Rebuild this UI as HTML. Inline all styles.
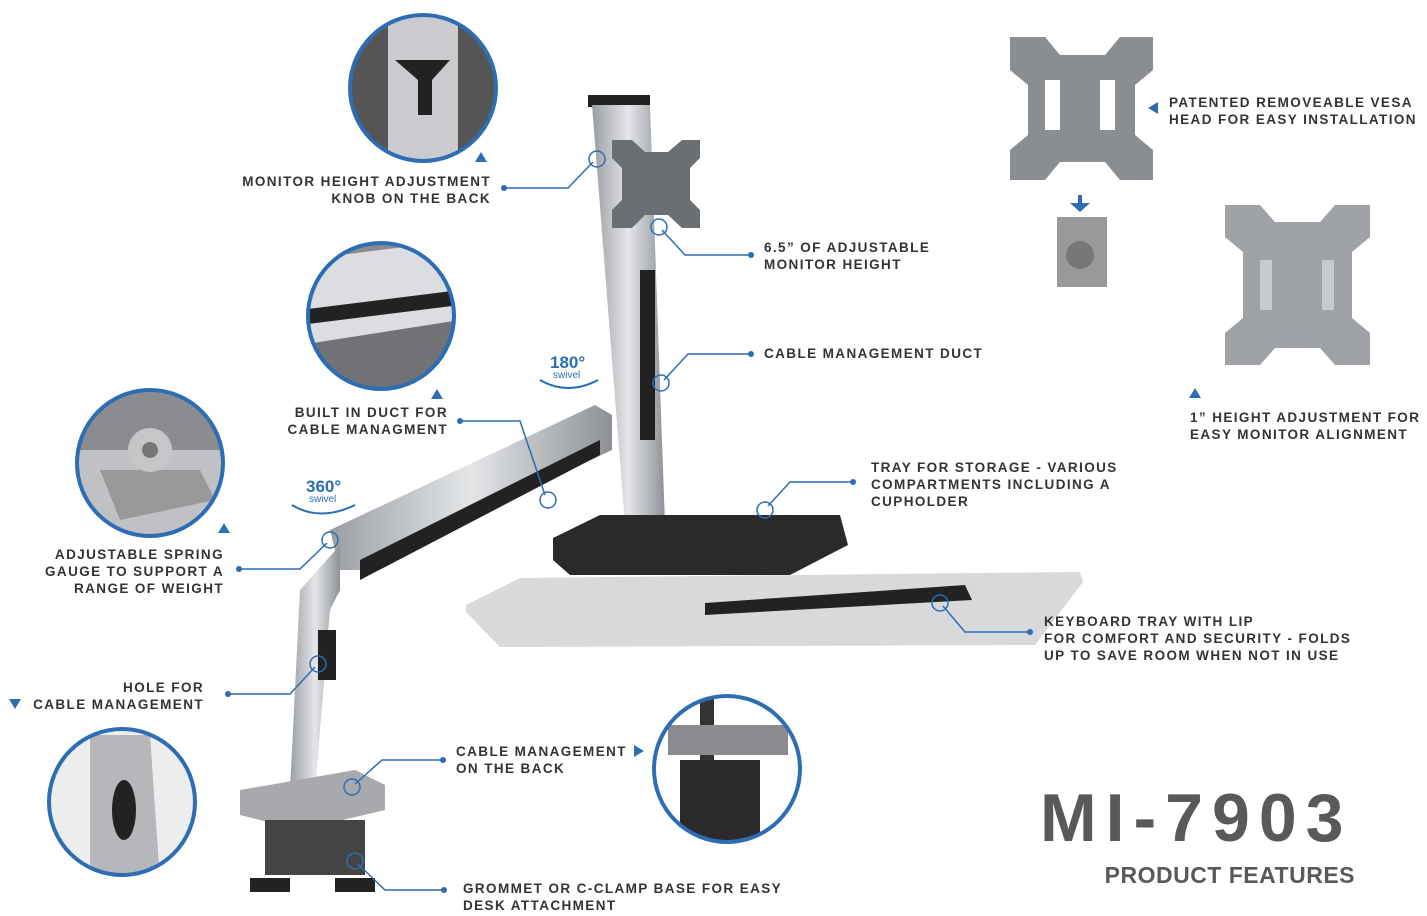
<!DOCTYPE html>
<html><head><meta charset="utf-8"><style>
html,body{margin:0;padding:0;background:#fff;}
body{width:1427px;height:916px;position:relative;overflow:hidden;font-family:"Liberation Sans",sans-serif;}
.t{position:absolute;font-size:13.5px;font-weight:bold;letter-spacing:1.4px;color:#333;line-height:17px;white-space:nowrap;}
.r{text-align:right;}
</style></head><body>
<svg width="1427" height="916" style="position:absolute;left:0;top:0">
<defs>
<linearGradient id="g" x1="0" x2="1"><stop offset="0" stop-color="#9a9ea3"/><stop offset=".5" stop-color="#e4e6e8"/><stop offset="1" stop-color="#8d9196"/></linearGradient>
<clipPath id="c1"><circle cx="423" cy="88" r="72"/></clipPath>
<clipPath id="c2"><circle cx="381" cy="316" r="72"/></clipPath>
<clipPath id="c3"><circle cx="150" cy="463" r="72"/></clipPath>
<clipPath id="c4"><circle cx="122" cy="802" r="72"/></clipPath>
<clipPath id="c5"><circle cx="727" cy="769" r="72"/></clipPath>
</defs>
<circle cx="423" cy="88" r="73" fill="#c9cbce"/>
<circle cx="381" cy="316" r="73" fill="#8a8c8f"/>
<circle cx="150" cy="463" r="73" fill="#bfc1c4"/>
<circle cx="122" cy="802" r="73" fill="#e2e3e5"/>
<circle cx="727" cy="769" r="73" fill="#fff"/>
<g clip-path="url(#c1)">
<rect x="348" y="15" width="40" height="150" fill="#555"/><rect x="458" y="15" width="40" height="150" fill="#555"/>
<path d="M395 60 L450 60 L432 80 L432 115 L418 115 L418 80Z" fill="#222"/>
</g>
<g clip-path="url(#c2)">
<path d="M300 260 L460 240 L460 330 L300 350Z" fill="#dcdde0"/><path d="M300 310 L460 290 L460 305 L300 325Z" fill="#222"/>
<path d="M300 345 L460 320 L460 400 L300 400Z" fill="#707275"/>
</g>
<g clip-path="url(#c3)">
<rect x="75" y="390" width="150" height="60" fill="#8a8c8f"/>
<path d="M100 470 L200 470 L215 500 L120 520Z" fill="#999"/>
<circle cx="150" cy="450" r="22" fill="#c4c6c8"/><circle cx="150" cy="450" r="8" fill="#777"/>
</g>
<g clip-path="url(#c4)">
<rect x="45" y="725" width="155" height="155" fill="#eceded"/>
<path d="M90 735 L150 735 L160 880 L90 880Z" fill="#b5b7ba"/>
<ellipse cx="124" cy="810" rx="12" ry="30" fill="#222"/>
</g>
<g clip-path="url(#c5)">
<rect x="700" y="695" width="14" height="150" fill="#333"/><rect x="668" y="725" width="120" height="30" fill="#8a8c8f"/><rect x="680" y="760" width="80" height="85" fill="#2a2a2a"/>
</g>
<g stroke="#2c6db4" stroke-width="4" fill="none">
<circle cx="423" cy="88" r="73"/><circle cx="381" cy="316" r="73"/><circle cx="150" cy="463" r="73"/><circle cx="122" cy="802" r="73"/><circle cx="727" cy="769" r="73"/>
</g>
<rect x="588" y="95" width="62" height="12" fill="#222"/>
<path d="M592 105 L650 105 L665 525 L625 525Z" fill="url(#g)"/>
<rect x="640" y="270" width="15" height="170" fill="#222"/>
<path d="M612 140 L632 140 L645 152 L668 152 L682 140 L700 140 L700 158 L690 168 L690 200 L700 210 L700 228 L682 228 L668 215 L645 215 L632 228 L612 228 L612 210 L622 200 L622 168 L612 158Z" fill="#6b6e72"/>
<path d="M553 538 L600 515 L840 515 L848 545 L790 575 L570 575 L553 560Z" fill="#2a2a2a"/>
<path d="M466 605 L520 578 L1080 572 L1083 582 L1035 645 L500 647 L466 612Z" fill="#d7d9db"/>
<path d="M705 603 L965 585 L972 600 L705 615Z" fill="#222"/>
<path d="M330 530 L595 405 L612 415 L612 450 L360 570 L340 570Z" fill="url(#g)"/>
<path d="M360 560 L600 440 L600 455 L360 580Z" fill="#222"/>
<path d="M300 590 L340 545 L340 590 L330 610 L315 790 L290 790Z" fill="url(#g)"/>
<rect x="318" y="630" width="18" height="50" fill="#222"/>
<path d="M240 790 L355 770 L385 785 L385 810 L300 830 L240 815Z" fill="#a7a9ac"/>
<rect x="265" y="820" width="100" height="55" fill="#444"/>
<rect x="250" y="878" width="40" height="14" fill="#222"/><rect x="335" y="878" width="40" height="14" fill="#222"/>
<g fill="#8a8d91">
<path d="M1010 37 L1045 37 L1060 55 L1105 55 L1120 37 L1153 37 L1153 70 L1135 85 L1135 135 L1153 150 L1153 180 L1120 180 L1105 162 L1060 162 L1045 180 L1010 180 L1010 150 L1028 135 L1028 85 L1010 70Z"/>
<path d="M1225 205 L1260 205 L1275 222 L1320 222 L1335 205 L1370 205 L1370 237 L1352 252 L1352 318 L1370 333 L1370 365 L1335 365 L1320 348 L1275 348 L1260 365 L1225 365 L1225 333 L1243 318 L1243 252 L1225 237Z" fill="#9ea1a5"/>
<rect x="1057" y="217" width="50" height="70" fill="#999"/>
</g>
<rect x="1045" y="80" width="15" height="50" fill="#fff"/><rect x="1100" y="80" width="15" height="50" fill="#fff"/>
<rect x="1260" y="260" width="12" height="50" fill="#c8cacc"/><rect x="1322" y="260" width="12" height="50" fill="#c8cacc"/>
<circle cx="1080" cy="255" r="14" fill="#777"/>
<path d="M1078 195 L1078 203 L1070 203 L1080 212 L1090 203 L1082 203 L1082 195Z" fill="#2c6db4"/>
<g stroke="#2c6db4" stroke-width="1.5" fill="none">
<polyline points="504,188 568,188 593,162"/><circle cx="597" cy="159" r="8"/>
<polyline points="751,255 685,255 662,230"/><circle cx="659" cy="227" r="8"/>
<polyline points="751,354 688,354 664,380"/><circle cx="661" cy="383" r="8"/>
<polyline points="460,421 520,421 545,495"/><circle cx="548" cy="500" r="8"/>
<polyline points="853,482 790,482 768,506"/><circle cx="765" cy="510" r="8"/>
<polyline points="239,569 300,569 327,543"/><circle cx="330" cy="540" r="8"/>
<polyline points="228,694 290,694 315,667"/><circle cx="318" cy="664" r="8"/>
<polyline points="1030,632 965,632 943,606"/><circle cx="940" cy="603" r="8"/>
<polyline points="443,760 382,760 355,784"/><circle cx="352" cy="787" r="8"/>
<polyline points="444,890 385,890 358,864"/><circle cx="355" cy="861" r="8"/>
</g>
<g fill="#2c6db4">
<circle cx="504" cy="188" r="3"/><circle cx="751" cy="255" r="3"/><circle cx="751" cy="354" r="3"/><circle cx="460" cy="421" r="3"/><circle cx="853" cy="482" r="3"/><circle cx="239" cy="569" r="3"/><circle cx="228" cy="694" r="3"/><circle cx="1030" cy="632" r="3"/><circle cx="443" cy="760" r="3"/><circle cx="444" cy="890" r="3"/>
<path d="M475 162 L487 162 L481 152Z"/><path d="M431 399 L443 399 L437 389Z"/><path d="M218 533 L230 533 L224 523Z"/>
<path d="M9 699 L21 699 L15 709Z"/><path d="M634 745 L634 757 L644 751Z"/><path d="M1158 102 L1158 114 L1148 108Z"/><path d="M1189 398 L1201 398 L1195 388Z"/>
</g>
<g stroke="#2c6db4" stroke-width="2" fill="none">
<path d="M540 380 Q568 396 598 380"/><path d="M292 505 Q320 522 355 505"/>
</g>
<g fill="#2c6db4" font-family="Liberation Sans" font-weight="bold">
<text x="550" y="368" font-size="17">180°</text><text x="553" y="378" font-size="10" font-weight="normal">swivel</text>
<text x="306" y="492" font-size="17">360°</text><text x="309" y="502" font-size="10" font-weight="normal">swivel</text>
</g>
</svg>
<div class="t r" style="right:936px;top:173px">MONITOR HEIGHT ADJUSTMENT<br>KNOB ON THE BACK</div>
<div class="t" style="left:764px;top:239px">6.5” OF ADJUSTABLE<br>MONITOR HEIGHT</div>
<div class="t" style="left:764px;top:345px">CABLE MANAGEMENT DUCT</div>
<div class="t r" style="right:979px;top:404px">BUILT IN DUCT FOR<br>CABLE MANAGMENT</div>
<div class="t" style="left:871px;top:459px">TRAY FOR STORAGE - VARIOUS<br>COMPARTMENTS INCLUDING A<br>CUPHOLDER</div>
<div class="t r" style="right:1203px;top:546px">ADJUSTABLE SPRING<br>GAUGE TO SUPPORT A<br>RANGE OF WEIGHT</div>
<div class="t r" style="right:1223px;top:679px">HOLE FOR<br>CABLE MANAGEMENT</div>
<div class="t" style="left:1044px;top:613px">KEYBOARD TRAY WITH LIP<br>FOR COMFORT AND SECURITY - FOLDS<br>UP TO SAVE ROOM WHEN NOT IN USE</div>
<div class="t" style="left:456px;top:743px">CABLE MANAGEMENT<br>ON THE BACK</div>
<div class="t" style="left:463px;top:880px">GROMMET OR C-CLAMP BASE FOR EASY<br>DESK ATTACHMENT</div>
<div class="t" style="left:1169px;top:94px">PATENTED REMOVEABLE VESA<br>HEAD FOR EASY INSTALLATION</div>
<div class="t" style="left:1190px;top:409px">1” HEIGHT ADJUSTMENT FOR<br>EASY MONITOR ALIGNMENT</div>
<div style="position:absolute;left:1040px;top:778px;font-size:68px;letter-spacing:9px;color:#58595b;font-weight:bold;line-height:80px">MI-7903</div>
<div style="position:absolute;right:72px;top:862px;font-size:23px;letter-spacing:0.5px;color:#58595b;font-weight:bold">PRODUCT FEATURES</div>
</body></html>
